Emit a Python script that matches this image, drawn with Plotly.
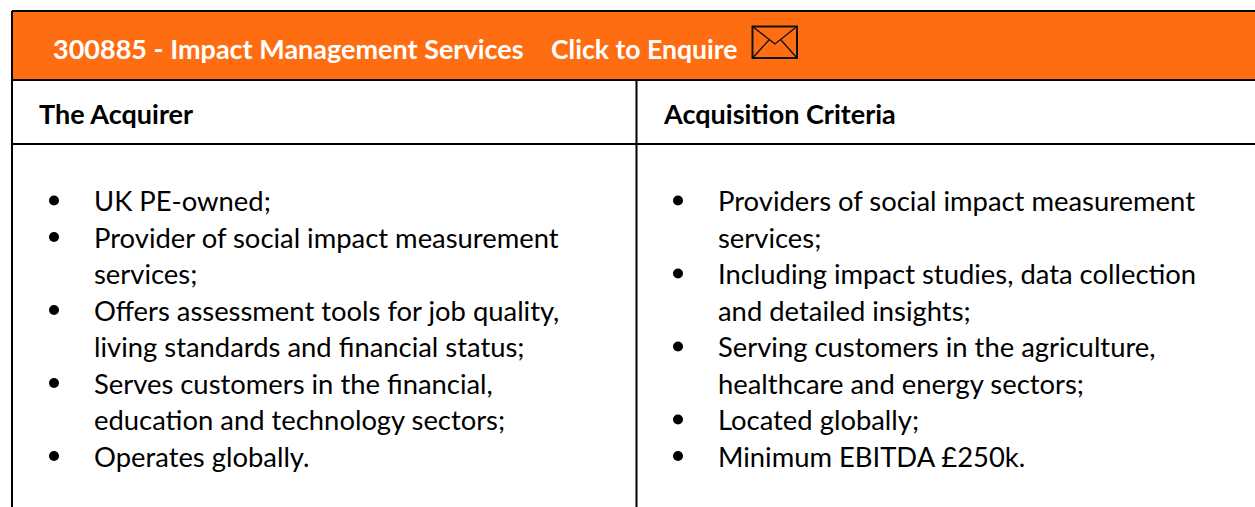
import plotly.graph_objects as go

title_parts = ["300885 - Impact Management Services", "Click to Enquire"]
column_heads = ["The Acquirer", "Acquisition Criteria"]
left_lines = ["UK PE-owned;", "Provider of social impact measurement", "services;",
              "Offers assessment tools for job quality,", "living standards and financial status;",
              "Serves customers in the financial,", "education and technology sectors;", "Operates globally."]
left_bullets = [True, True, False, True, False, True, False, True]
right_lines = ["Providers of social impact measurement", "services;", "Including impact studies, data collection",
               "and detailed insights;", "Serving customers in the agriculture,", "healthcare and energy sectors;",
               "Located globally;", "Minimum EBITDA £250k."]
right_bullets = [True, False, True, False, True, False, True, True]

FONT = "Lato, Carlito, Calibri, sans-serif"
W, H = 1255, 507
ORANGE = "#FF6D12"
BODY_SIZE = 27.4
HEAD_SIZE = 27.0
TOP, PITCH = 200.5, 36.5

fig = go.Figure()
shapes = [dict(type="rect", x0=12, x1=W + 5, y0=11, y1=80, fillcolor=ORANGE, line=dict(width=0), layer="below")]
for x0, y0, x1, y1 in [(12, 11, W + 5, 11), (12, 11, 12, H + 5), (12, 80, W + 5, 80), (12, 144, W + 5, 144), (636.5, 80, 636.5, H + 5)]:
    shapes.append(dict(type="line", x0=x0, x1=x1, y0=y0, y1=y1, line=dict(color="#000000", width=2)))
# envelope icon
shapes.append(dict(type="rect", x0=752.5, x1=797, y0=26.5, y1=58, line=dict(color="#111111", width=2)))
shapes.append(dict(type="path", path="M752.5,26.5 L775,44 L797,26.5", line=dict(color="#111111", width=1.3)))
shapes.append(dict(type="path", path="M752.5,58 L769,40 M797,58 L781,40", line=dict(color="#111111", width=1.3)))

ann = []
def text(x, y, s, size, color="#000000", bold=False):
    ann.append(dict(x=x - 2.5, y=y, text=f"<b>{s}</b>" if bold else s, xref="x", yref="y", xanchor="left", yanchor="middle",
                    showarrow=False, align="left", font=dict(family=FONT, size=size, color=color)))

text(53, 48.5, title_parts[0], HEAD_SIZE, "#FFFFFF", True)
text(551, 48.5, title_parts[1], 26.6, "#FFFFFF", True)
text(39, 113, column_heads[0], HEAD_SIZE, bold=True)
text(663, 113, column_heads[1], HEAD_SIZE, bold=True)

bx, by = [], []
for lines, bullets, tx, bulx in [(left_lines, left_bullets, 94, 54), (right_lines, right_bullets, 718, 678)]:
    for i, (s, b) in enumerate(zip(lines, bullets)):
        y = TOP + i * PITCH
        text(tx, y, s, BODY_SIZE)
        if b:
            bx.append(bulx); by.append(y)

fig.add_trace(go.Scatter(x=bx, y=by, mode="markers", marker=dict(color="#000000", size=10), hoverinfo="skip", showlegend=False))
fig.update_layout(width=W, height=H, margin=dict(l=0, r=0, t=0, b=0), paper_bgcolor="#FFFFFF", plot_bgcolor="#FFFFFF",
                  shapes=shapes, annotations=ann,
                  xaxis=dict(range=[0, W], visible=False, fixedrange=True),
                  yaxis=dict(range=[H, 0], visible=False, fixedrange=True))
fig.write_html("out.html", config=dict(displayModeBar=False),
               post_script="document.body.style.margin='0';document.documentElement.style.overflow='hidden';")
